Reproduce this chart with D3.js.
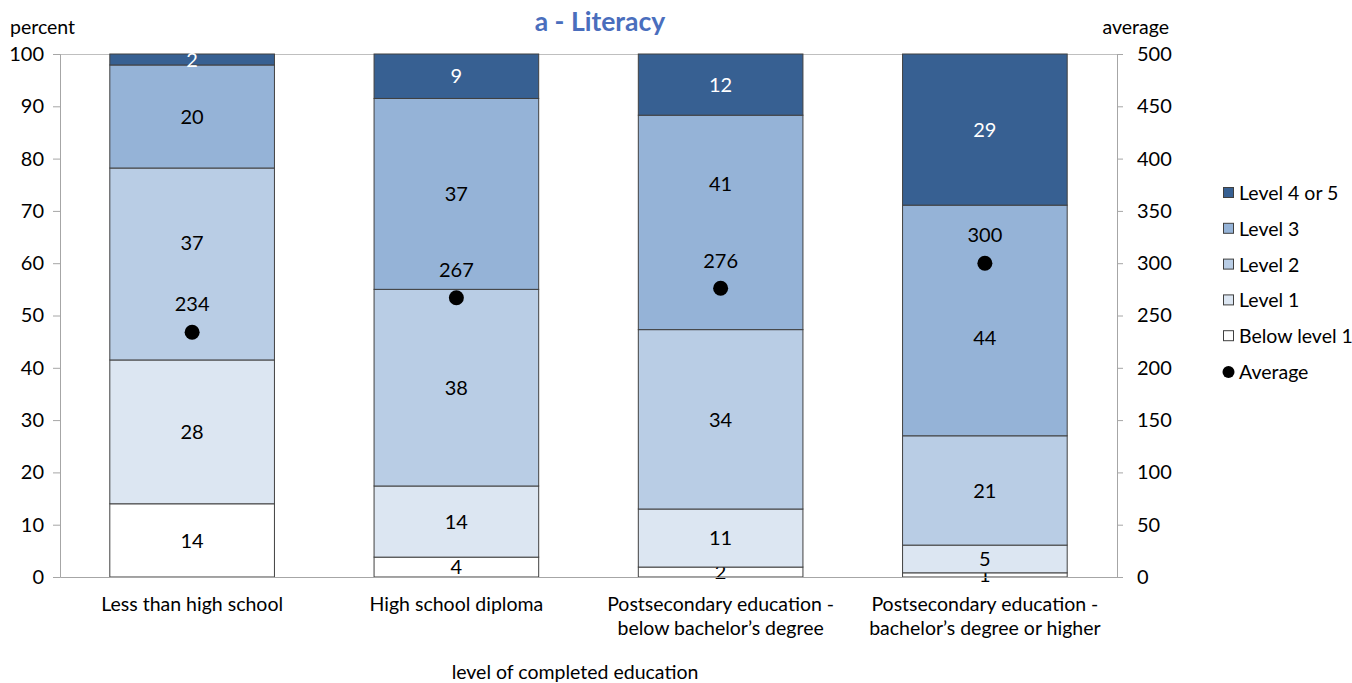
<!DOCTYPE html>
<html><head><meta charset="utf-8">
<script src="https://cdn.jsdelivr.net/npm/d3@7"></script>
<style>body{margin:0;background:#fff}svg{display:block}text{font-family:Lato,"Open Sans",sans-serif;}</style>
</head><body><svg id="c" width="1352" height="683"></svg>
<script>
const categories = ["Less than high school|", "High school diploma|", "Postsecondary education -|below bachelor\u2019s degree", "Postsecondary education -|bachelor\u2019s degree or higher"];
const seriesNames = ["Below level 1", "Level 1", "Level 2", "Level 3", "Level 4 or 5"];
const belowLevel1 = [14.0, 3.8, 1.9, 0.8];
const level1 = [27.5, 13.6, 11.1, 5.3];
const level2 = [36.7, 37.6, 34.3, 20.9];
const level3 = [19.7, 36.5, 41.0, 44.1];
const level4or5 = [2.1, 8.5, 11.7, 28.9];
const averages = [234, 267, 276, 300];
const leftTicks = [0,10,20,30,40,50,60,70,80,90,100];
const rightTicks = [0,50,100,150,200,250,300,350,400,450,500];
const colors = ["#ffffff", "#dce6f2", "#b9cde5", "#95b3d7", "#376092"];

const series = [belowLevel1, level1, level2, level3, level4or5];
const svg = d3.select("#c");
const L = 60, R = 1117, T = 54, B = 577;
const FS = 19.5, NS = 20;
const x = d3.scaleBand().domain(d3.range(categories.length)).range([L, R]).paddingInner(0.377).paddingOuter(0.1885);
const y = d3.scaleLinear().domain([0, 100]).range([B, T]);
const y2 = d3.scaleLinear().domain([0, 500]).range([B, T]);
// manual label nudges (pixels) applied as in the original, to keep clear of the average labels
const nudge = (i, k) => (i === 0 && k === 2) ? -21 : (i === 2 && k === 3) ? -39 : (i === 3 && k === 3) ? 17 : 0;

svg.append("line").attr("x1", L).attr("x2", R).attr("y1", T+0.5).attr("y2", T+0.5).attr("stroke", "#bfbfbf");

categories.forEach((c, i) => {
  let cum = 0;
  series.forEach((s, k) => {
    const v = s[i];
    const y0 = y(cum), y1 = y(cum + v);
    svg.append("rect").attr("x", x(i)).attr("y", y1).attr("width", x.bandwidth()).attr("height", y0 - y1)
      .attr("fill", colors[k]).attr("stroke", "#404040").attr("stroke-width", 1);
    svg.append("text").attr("x", x(i) + x.bandwidth()/2).attr("y", (y0 + y1)/2 + nudge(i, k)).attr("dy", "0.36em")
      .attr("text-anchor", "middle").attr("font-size", NS).attr("fill", k === 4 ? "#ffffff" : "#000")
      .text(Math.round(v));
    cum += v;
  });
});

const gl = svg.append("g").attr("transform", `translate(${L},0)`).call(d3.axisLeft(y).tickValues(leftTicks).tickSize(7).tickPadding(9));
const gr = svg.append("g").attr("transform", `translate(${R},0)`).call(d3.axisRight(y2).tickValues(rightTicks).tickSize(6).tickPadding(14));
const gb = svg.append("g").attr("transform", `translate(0,${B})`).call(d3.axisBottom(x).tickSize(0).tickFormat(""));
[gl, gr, gb].forEach(g => {
  g.select(".domain").attr("stroke", "#a6a6a6");
  g.selectAll(".tick line").attr("stroke", "#a6a6a6");
  g.selectAll(".tick text").attr("font-size", NS).attr("fill", "#000").attr("font-family", "Lato, sans-serif");
});

categories.forEach((c, i) => {
  const parts = c.split("|");
  parts.forEach((p, j) => {
    svg.append("text").attr("x", x(i) + x.bandwidth()/2).attr("y", 611 + j*24).attr("text-anchor", "middle")
      .attr("font-size", FS).attr("fill", "#000").text(p);
  });
});

svg.selectAll("circle.avg").data(averages).join("circle").attr("class", "avg")
  .attr("cx", (d, i) => x(i) + x.bandwidth()/2).attr("cy", d => y2(d)).attr("r", 7.5).attr("fill", "#000");
svg.selectAll("text.avgl").data(averages).join("text").attr("class", "avgl")
  .attr("x", (d, i) => x(i) + x.bandwidth()/2).attr("y", d => y2(d) - 28).attr("dy", "0.36em")
  .attr("text-anchor", "middle").attr("font-size", NS).text(d => d);

svg.append("text").attr("x", 600).attr("y", 31).attr("text-anchor", "middle").attr("font-size", 26.5).attr("font-weight", "bold").attr("fill", "#4a6ebd").text("a - Literacy");
svg.append("text").attr("x", 10).attr("y", 34).attr("font-size", FS).text("percent");
svg.append("text").attr("x", 1169).attr("y", 34).attr("text-anchor", "end").attr("font-size", FS).text("average");
svg.append("text").attr("x", 575).attr("y", 679).attr("text-anchor", "middle").attr("font-size", FS).text("level of completed education");

const legItems = [4,3,2,1,0];
legItems.forEach((k, j) => {
  const ly = 193 + j*35.8;
  svg.append("rect").attr("x", 1223.5).attr("y", ly - 5.5).attr("width", 10).attr("height", 10).attr("fill", colors[k]).attr("stroke", "#404040");
  svg.append("text").attr("x", 1239).attr("y", ly).attr("dy", "0.36em").attr("font-size", FS).text(seriesNames[k]);
});
const ay = 193 + 5*35.8;
svg.append("circle").attr("cx", 1228.5).attr("cy", ay).attr("r", 6).attr("fill", "#000");
svg.append("text").attr("x", 1239).attr("y", ay).attr("dy", "0.36em").attr("font-size", FS).text("Average");
</script></body></html>
